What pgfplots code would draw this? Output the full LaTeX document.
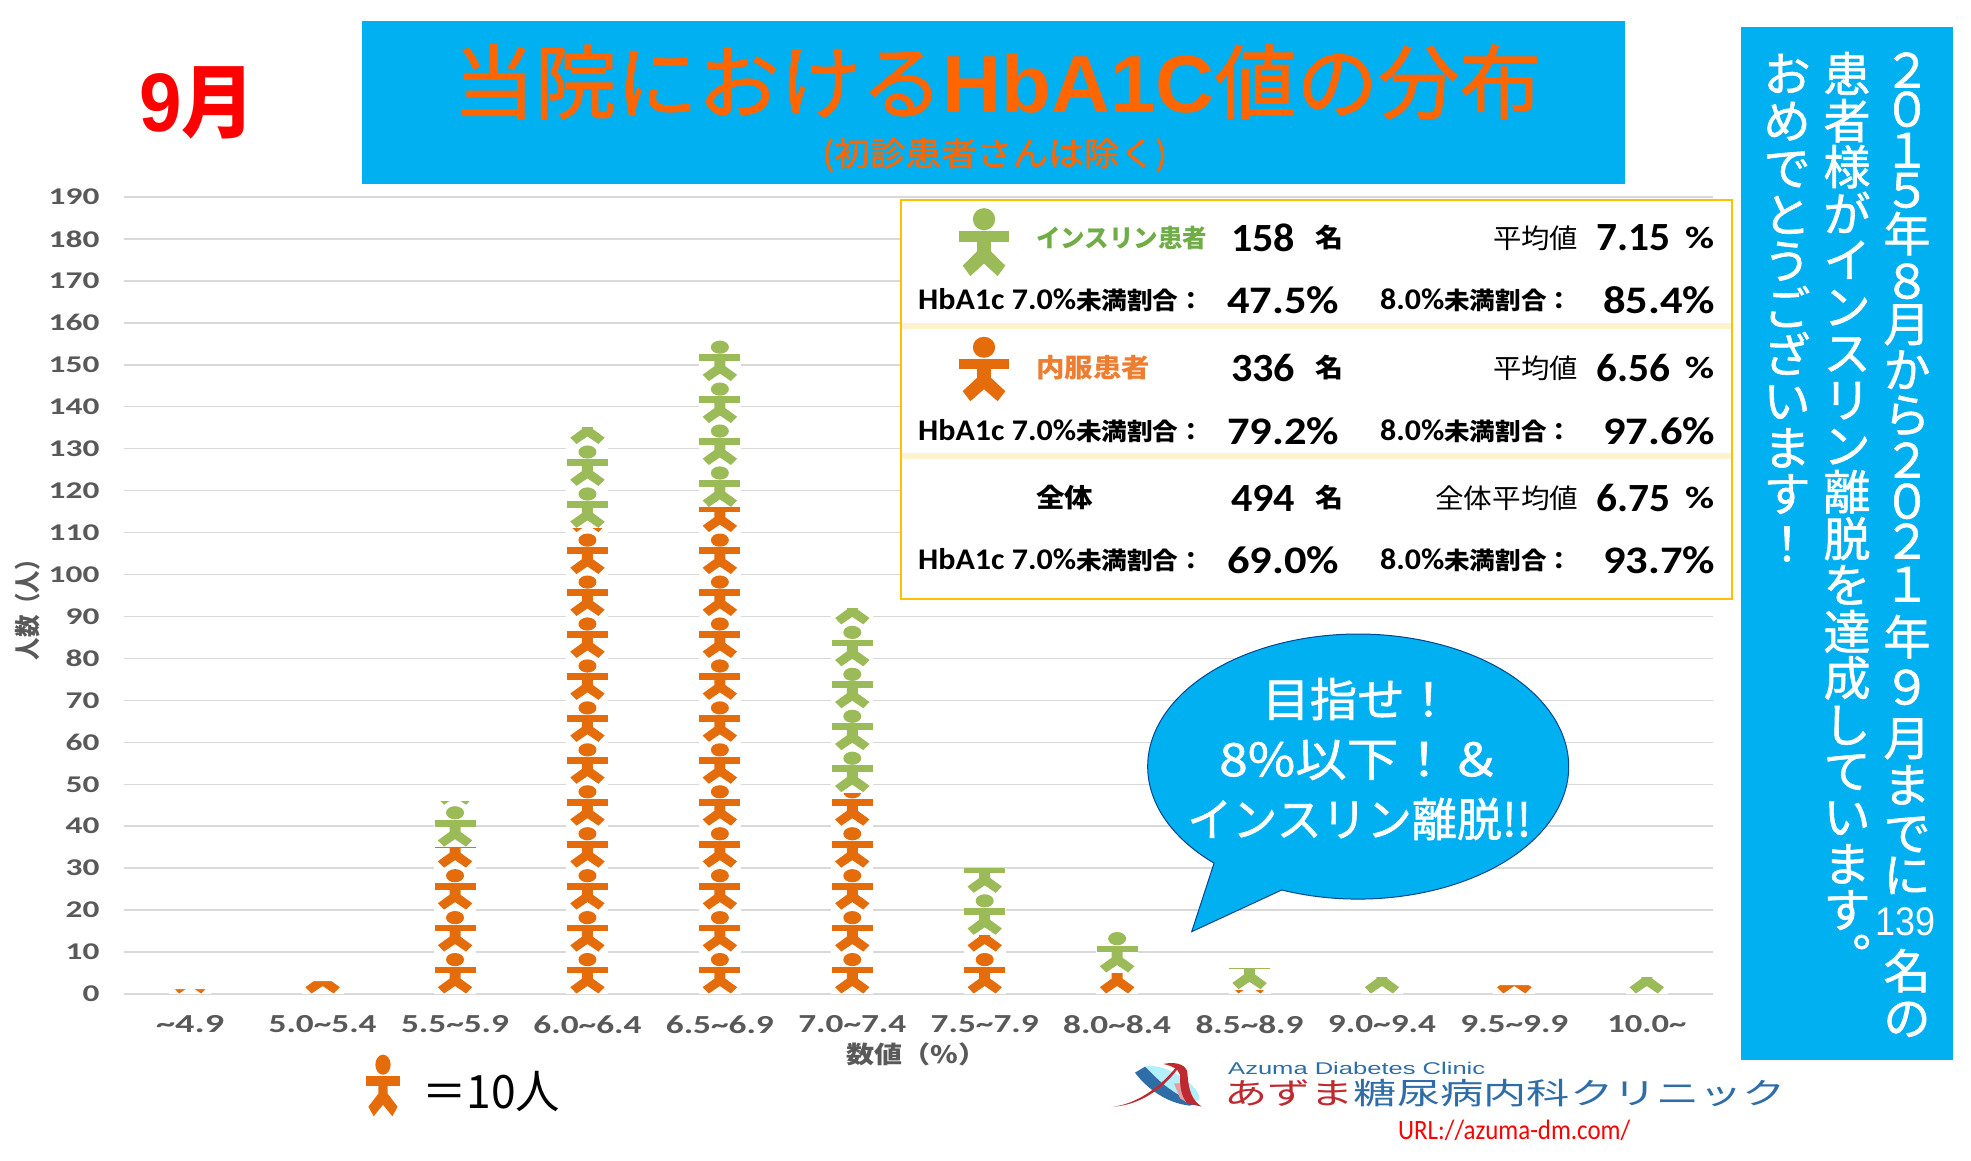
\documentclass[border=0pt]{standalone}
\usepackage{fontspec}
\usepackage{pgfplots}
\usepackage{pgfplotstable}
\pgfplotsset{compat=1.18}
\setmainfont{Carlito}
\newfontfamily\jp{Noto Sans CJK JP}
\newfontfamily\jpm[FakeBold=1.2]{Noto Sans CJK JP}
\newfontfamily\cb{Carlito}
\newfontfamily\ls{Liberation Sans}
\definecolor{blueB}{HTML}{00B0F0}
\definecolor{icoO}{HTML}{E46C0A}
\definecolor{icoG}{HTML}{9BBB59}
\definecolor{titleO}{HTML}{FF6600}
\definecolor{gridC}{HTML}{D9D9D9}
\definecolor{tickC}{HTML}{595959}
\definecolor{boxY}{HTML}{FFC000}
\definecolor{sepY}{HTML}{FFF2CC}
\definecolor{txtG}{HTML}{70AD47}
\definecolor{txtO}{HTML}{ED7D31}
\definecolor{logoB}{HTML}{2E6DA8}
\definecolor{logoR}{HTML}{BE2A30}
\pgfplotstableread{
x orange green
0 1 0
1 3 0
2 35 11
3 111 24
4 116 40
5 48 44
6 14 16
7 5 10
8 1 5
9 0 4
10 2 0
11 0 4
}\hbadata
\newcommand{\fs}[1]{\fontsize{#1}{#1}\selectfont}
\newcommand{\fit}[2]{\resizebox{#1pt}{\height}{#2}}
% one person, feet near the origin, 41.95pt tall
\newcommand{\personfill}{%
  \pgfpathellipse{\pgfpoint{0pt}{34.4pt}}{\pgfpoint{9pt}{0pt}}{\pgfpoint{0pt}{6.6pt}}\pgfusepath{fill}%
  \pgfpathrectangle{\pgfpoint{-20.5pt}{20.6pt}}{\pgfpoint{41pt}{6.7pt}}\pgfusepath{fill}%
  \pgfpathmoveto{\pgfpoint{-5.5pt}{26pt}}%
  \pgfpathlineto{\pgfpoint{5.5pt}{26pt}}%
  \pgfpathlineto{\pgfpoint{5.5pt}{15.3pt}}%
  \pgfpathlineto{\pgfpoint{17.2pt}{6.8pt}}%
  \pgfpathlineto{\pgfpoint{11pt}{0.5pt}}%
  \pgfpathlineto{\pgfpoint{0pt}{8pt}}%
  \pgfpathlineto{\pgfpoint{-11pt}{0.5pt}}%
  \pgfpathlineto{\pgfpoint{-17.2pt}{6.8pt}}%
  \pgfpathlineto{\pgfpoint{-5.5pt}{15.3pt}}%
  \pgfpathclose\pgfusepath{fill}%
}
% a stack of persons as tall as the bar's value, cut at the value
\newcommand{\personstack}[1]{%
  \pgfmathsetmacro\barhgt{\barv*4.1947}%
  \pgfmathtruncatemacro\nicons{\barv/10}%
  \pgfsetfillcolor{white}%
  \pgfpathrectangle{\pgfpoint{-21pt}{0pt}}{\pgfpoint{42pt}{\barhgt pt}}\pgfusepath{fill}%
  \pgfpathrectangle{\pgfpoint{-21pt}{0pt}}{\pgfpoint{42pt}{\barhgt pt}}\pgfusepath{clip}%
  \pgfsetfillcolor{#1}%
  \foreach \k in {0,...,\nicons}{%
    \pgfscope
    \pgftransformyshift{\k*41.947pt}%
    \personfill
    \endpgfscope
  }%
}
\pgfdeclareplotmark{pstackO}{\personstack{icoO}}
\pgfdeclareplotmark{pstackG}{\personstack{icoG}}
\newcommand{\xl}[2]{\fit{#1}{#2}}
\newcommand{\tx}[5][black]{\node[anchor=west,inner sep=0pt,text=#1] at (#2,{1160-#3}) {#5};}
\newcommand{\icon}[5]{\begin{scope}[shift={(#1,{1160-#2})},xscale=#3,yscale=#4]\pgfsetfillcolor{#5}\personfill\end{scope}}
% characters of the vertical text: x, then char/centre pairs
\newcommand{\vcol}[2]{\foreach \c/\yy in {#2}{\node[anchor=base,inner sep=0pt,text=white] at (#1,{1160-\yy-17.5}) {\jpm\fs{47}\c};}}
\newcommand{\rowA}[3]{%
  \tx{1231}{#1}{}{\fit{64}{\bfseries\cb\fs{40}#2}}
  \tx{1315}{#1}{}{\fit{28}{\jp\bfseries\fs{26}名}}
  \tx{1596}{#1}{}{\fit{74}{\bfseries\cb\fs{40}#3}}
  \tx{1685}{#1}{}{\fit{29}{\bfseries\cb\fs{31}\%}}
}
\newcommand{\rowB}[3]{%
  \tx{918}{#1}{}{\fit{286}{\bfseries\cb\fs{30}HbA1c 7.0\%\jp\fs{24}未満割合：}}
  \tx{1227}{#1}{}{\fit{112}{\bfseries\cb\fs{39}#2}}
  \tx{1380}{#1}{}{\fit{192}{\bfseries\cb\fs{30}8.0\%\jp\fs{24}未満割合：}}
  \tx{1603}{#1}{}{\fit{112}{\bfseries\cb\fs{39}#3}}
}
\begin{document}
\begin{tikzpicture}[x=1pt,y=1pt]
\useasboundingbox (0,0) rectangle (1971,1160);
\fill[white] (0,0) rectangle (1971,1160);
\begin{axis}[
  at={(124pt,166pt)},anchor=south west,
  width=1589pt,height=797pt,scale only axis,
  xmin=-0.5,xmax=11.5,ymin=0,ymax=190,
  clip=false,
  axis line style={draw=none},
  major tick length=0pt,
  ymajorgrids,
  grid style={gridC,line width=1.5pt},
  ytick={0,10,...,190},
  xtick={0,...,11},
  xticklabels={
    {\raisebox{-4pt}{\xl{68}{\textasciitilde 4.9}}},
    {\xl{108}{5.0\textasciitilde 5.4}},{\xl{108}{5.5\textasciitilde 5.9}},
    {\xl{108}{6.0\textasciitilde 6.4}},{\xl{108}{6.5\textasciitilde 6.9}},
    {\xl{108}{7.0\textasciitilde 7.4}},{\xl{108}{7.5\textasciitilde 7.9}},
    {\xl{108}{8.0\textasciitilde 8.4}},{\xl{108}{8.5\textasciitilde 8.9}},
    {\xl{108}{9.0\textasciitilde 9.4}},{\xl{108}{9.5\textasciitilde 9.9}},
    {\xl{79}{10.0\textasciitilde}}},
  yticklabel={\scalebox{1.39}[1]{\pgfmathprintnumber[assume math mode=true]{\tick}}},
  xticklabel style={font=\bfseries\cb\fs{26},text=tickC,anchor=north,yshift=-18pt},
  yticklabel style={font=\bfseries\cb\fs{24},text=tickC,anchor=east,xshift=-21pt},
  xlabel={\fit{140}{\jp\bfseries\fs{24}数値（\%）}},
  ylabel={\rotatebox{90}{\fit{112}{\jp\bfseries\fs{26}人数（人）}}},
  xlabel style={at={(axis description cs:0.4985,-0.0753)},anchor=center,text=tickC},
  ylabel style={at={(axis description cs:-0.0604,0.489)},anchor=center,rotate=-90,text=tickC},
  point meta min=0,point meta max=1,
]
\addplot[scatter,only marks,mark=pstackO,point meta=0,
  visualization depends on={\thisrow{orange} \as \barv}]
  table[x=x,y expr=0] {\hbadata};
\addplot[scatter,only marks,mark=pstackG,point meta=0,
  visualization depends on={\thisrow{green} \as \barv}]
  table[x=x,y=orange] {\hbadata};
\end{axis}
% header
\tx[red]{139}{103}{}{\fit{116}{\bfseries\ls\fs{83}9\jp\fs{80}月}}
\fill[blueB] (362,{1160-184}) rectangle (1625,{1160-21});
\tx[titleO]{453}{82}{}{\fit{1088}{\jpm\fs{81}当院における{\bfseries\ls HbA1C}値の分布}}
\tx[titleO]{822}{155}{}{\fit{345}{\jpm\fs{33}(初診患者さんは除く)}}
% right column
\fill[blueB] (1741,{1160-1060}) rectangle (1953,{1160-27});
\vcol{1907}{２/70,０/109,１/150,５/190,年/234,８/281,月/324,か/370,ら/415,２/460,０/501,２/541,１/584,年/637,９/687,月/738,ま/785,で/833,に/875,名/971,の/1018}
\node[anchor=center,inner sep=0pt,text=white] at (1905,{1160-922}) {\fit{60}{\ls\fs{40}139}};
\vcol{1847}{患/74,者/121,様/167,が/214,イ/260,ン/307,ス/353,リ/400,ン/446,離/492,脱/539,を/585,達/632,成/678,し/725,て/771,い/817,ま/864,す/910}
\node[anchor=center,inner sep=0pt,text=white] at (1876,{1160-942}) {\jpm\fs{47}。};
\vcol{1787}{お/74,め/121,で/168,と/215,う/261,ご/308,ざ/355,い/401,ま/448,す/494,！/544}
% summary box
\draw[boxY,line width=2pt,fill=white] (901,{1160-599}) rectangle (1732,{1160-200});
\fill[sepY] (902,{1160-329}) rectangle (1731,{1160-323});
\fill[sepY] (902,{1160-459}) rectangle (1731,{1160-453});
\icon{984}{277}{1.24}{1.68}{icoG}
\icon{984}{402}{1.24}{1.59}{icoO}
\tx[txtG]{1036}{238}{}{\fit{171}{\jp\bfseries\fs{25}インスリン患者}}
\tx[txtO]{1036}{368}{}{\fit{114}{\jp\bfseries\fs{26}内服患者}}
\tx{1036}{498}{}{\fit{57}{\jp\bfseries\fs{26}全体}}
\rowA{238}{158}{7.15}
\rowA{368}{336}{6.56}
\rowA{498}{494}{6.75}
\rowB{300}{47.5\%}{85.4\%}
\rowB{431}{79.2\%}{97.6\%}
\rowB{560}{69.0\%}{93.7\%}
\tx{1493}{238}{}{\fit{85}{\jp\fs{27}平均値}}
\tx{1493}{368}{}{\fit{85}{\jp\fs{27}平均値}}
\tx{1435}{498}{}{\fit{143}{\jp\fs{27}全体平均値}}
% speech bubble
\draw[draw=blue!30!black!60!blueB,line width=1pt,fill=blueB]
  (1281.7,270) arc[start angle=248.7,end angle=586.8,x radius=210.5,y radius=132.5]
  -- (1191.7,228.3) -- cycle;
\tx[white]{1262}{699}{}{\fit{190}{\jpm\fs{46}目指せ！}}
\tx[white]{1219}{760}{}{\fit{282}{\jpm\fs{46}8\%以下！＆}}
\tx[white]{1187}{819}{}{\fit{344}{\jpm\fs{46}インスリン離脱!!}}
% legend of the pictogram
\icon{383}{1117}{0.85}{1.52}{icoO}
\tx{422}{1092}{}{\fit{138}{\jp\fs{46}＝10人}}
% logo
\begin{scope}[shift={(1100,110)},x=0.3333pt,y=-0.3333pt]
  \fill[blue!20!cyan!30] (135,50) .. controls (200,35) and (310,115) .. (297,150) .. controls (280,170) and (180,110) .. (135,50) -- cycle;
  \fill[logoB] (105,68) -- (135,50) .. controls (170,85) and (210,130) .. (290,160) -- (270,167) .. controls (200,160) and (140,115) .. (105,68) -- cycle;
  \fill[logoR] (40,170) .. controls (120,160) and (190,100) .. (228,52) -- (232,58) .. controls (190,115) and (120,165) .. (40,170) -- cycle;
  \fill[logoR!45!white] (222,100) -- (248,100) -- (262,158) -- (240,145) -- cycle;
  \fill[logoR] (190,42) .. controls (220,35) and (255,40) .. (262,65) .. controls (265,120) and (275,150) .. (305,170) -- (262,160) .. controls (240,135) and (240,100) .. (240,75) .. controls (235,55) and (215,48) .. (190,42) -- cycle;
\end{scope}
\tx[logoB]{1228}{1068}{}{\fit{257}{\ls\fs{17}Azuma Diabetes Clinic}}
\tx{1224}{1093}{}{\fit{562}{\jp\fs{30}\textcolor{logoR}{あずま}\textcolor{logoB}{糖尿病内科クリニック}}}
\tx[red]{1398}{1130}{}{\fit{232}{\cb\fs{28}URL://azuma-dm.com/}}
\end{tikzpicture}
\end{document}
